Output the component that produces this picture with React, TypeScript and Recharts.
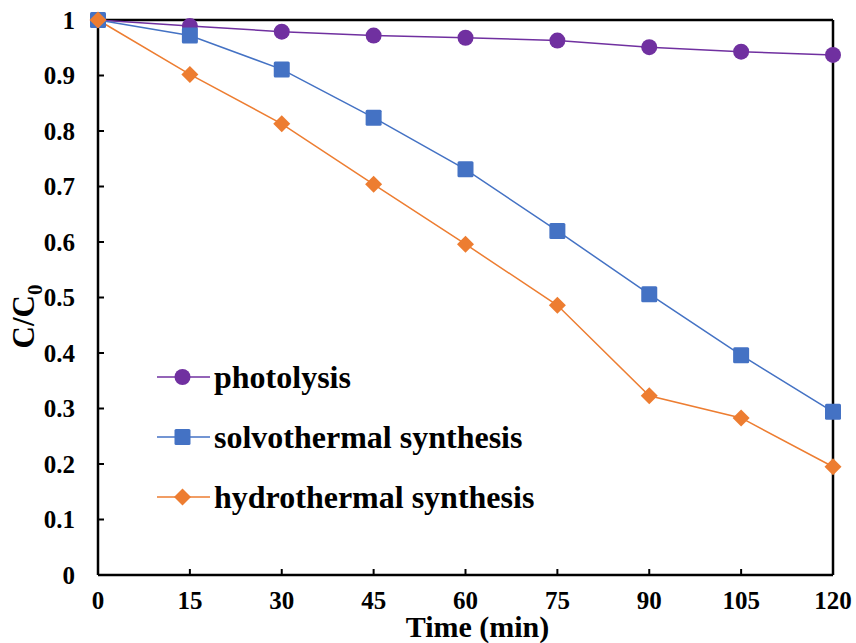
import React from 'react'
import {
  LineChart,
  Line,
  XAxis,
  YAxis,
  Legend,
  ReferenceLine,
  Label
} from 'recharts'

const times = [0, 15, 30, 45, 60, 75, 90, 105, 120]
const photolysis = [1, 0.989, 0.979, 0.972, 0.968, 0.963, 0.951, 0.943, 0.937]
const solvothermal = [1, 0.972, 0.911, 0.824, 0.731, 0.62, 0.506, 0.396, 0.294]
const hydrothermal = [1, 0.902, 0.813, 0.704, 0.596, 0.486, 0.323, 0.283, 0.195]
const yTicks = [0, 0.1, 0.2, 0.3, 0.4, 0.5, 0.6, 0.7, 0.8, 0.9, 1]

const colors = {
  photolysis: '#7030A0',
  solvothermal: '#4472C4',
  hydrothermal: '#ED7D31'
}

const data = times.map((t, i) => ({
  time: t,
  photolysis: photolysis[i],
  solvothermal: solvothermal[i],
  hydrothermal: hydrothermal[i]
}))

const font = '"Liberation Serif", "Times New Roman", serif'

const SquareDot = (props: any) => {
  const { cx, cy, index } = props
  return (
    <rect
      key={`sq-${index}`}
      x={cx - 8}
      y={cy - 8}
      width={16}
      height={16}
      rx={1.5}
      fill={colors.solvothermal}
    />
  )
}

const DiamondDot = (props: any) => {
  const { cx, cy, index } = props
  return (
    <path
      key={`dm-${index}`}
      d={`M${cx},${cy - 8.5} L${cx + 8.5},${cy} L${cx},${cy + 8.5} L${cx - 8.5},${cy} Z`}
      fill={colors.hydrothermal}
    />
  )
}

const legendItems = [
  { name: 'photolysis', color: colors.photolysis, shape: 'circle' },
  { name: 'solvothermal synthesis', color: colors.solvothermal, shape: 'square' },
  { name: 'hydrothermal synthesis', color: colors.hydrothermal, shape: 'diamond' }
]

const renderLegend = () => (
  <div style={{ fontFamily: font, fontWeight: 'bold', fontSize: 32, color: '#000' }}>
    {legendItems.map((item) => (
      <div
        key={item.name}
        style={{ display: 'flex', alignItems: 'center', height: 60 }}
      >
        <svg width={53} height={20} style={{ marginRight: 4 }}>
          <line x1={0} y1={10} x2={53} y2={10} stroke={item.color} strokeWidth={1.5} />
          {item.shape === 'circle' && <circle cx={25.5} cy={10} r={8} fill={item.color} />}
          {item.shape === 'square' && (
            <rect x={17.5} y={2} width={16} height={16} rx={1.5} fill={item.color} />
          )}
          {item.shape === 'diamond' && (
            <path d="M25.5,1.5 L34,10 L25.5,18.5 L17,10 Z" fill={item.color} />
          )}
        </svg>
        <span style={{ lineHeight: 1 }}>{item.name}</span>
      </div>
    ))}
  </div>
)

const YLabel = (props: any) => {
  const { viewBox } = props
  const x = 34
  const y = viewBox.y + viewBox.height / 2 + 19
  return (
    <text
      x={x}
      y={y}
      transform={`rotate(-90, ${x}, ${y})`}
      textAnchor="middle"
      fontFamily={font}
      fontWeight="bold"
      fontSize={31}
      fill="#000"
    >
      C/C
      <tspan fontSize={21} dy={8}>0</tspan>
    </text>
  )
}

const XLabel = (props: any) => {
  const { viewBox } = props
  return (
    <text
      x={viewBox.x + viewBox.width / 2 + 12}
      y={637}
      textAnchor="middle"
      fontFamily={font}
      fontWeight="bold"
      fontSize={30}
      fill="#000"
    >
      Time (min)
    </text>
  )
}

const tickStyle = { fontFamily: font, fontWeight: 'bold' as const, fontSize: 25, fill: '#000' }

export default function App() {
  return (
    <div style={{ position: 'absolute', left: 0, top: 0, background: '#fff' }}>
      <LineChart
        width={856}
        height={643}
        data={data}
        margin={{ top: 20, right: 23, bottom: 0, left: 38 }}
      >
        <XAxis
          dataKey="time"
          type="number"
          domain={[0, 120]}
          ticks={times}
          height={68}
          axisLine={{ stroke: '#000', strokeWidth: 2.5 }}
          tickLine={{ stroke: '#000', strokeWidth: 2 }}
          tickSize={-6}
          tickMargin={22}
          tick={tickStyle}
          interval={0}
        >
          <Label content={<XLabel />} />
        </XAxis>
        <YAxis
          type="number"
          domain={[0, 1]}
          ticks={yTicks}
          width={60}
          axisLine={{ stroke: '#000', strokeWidth: 2.5 }}
          tickLine={{ stroke: '#000', strokeWidth: 2 }}
          tickSize={-6}
          tickMargin={29}
          tick={tickStyle}
          interval={0}
          tickFormatter={(v: number) => (v === 0 ? '0' : v === 1 ? '1' : v.toFixed(1))}
        >
          <Label content={<YLabel />} />
        </YAxis>
        <ReferenceLine y={1} stroke="#000" strokeWidth={2.5} />
        <ReferenceLine x={120} stroke="#000" strokeWidth={2.5} />
        <Legend
          content={renderLegend}
          layout="vertical"
          verticalAlign="middle"
          align="center"
          wrapperStyle={{ left: 157, top: 347, width: 440 }}
        />
        <Line
          dataKey="photolysis"
          stroke={colors.photolysis}
          strokeWidth={1.5}
          dot={{ r: 8, fill: colors.photolysis, stroke: 'none' }}
          activeDot={false}
          isAnimationActive={false}
        />
        <Line
          dataKey="solvothermal"
          stroke={colors.solvothermal}
          strokeWidth={1.5}
          dot={SquareDot}
          activeDot={false}
          isAnimationActive={false}
        />
        <Line
          dataKey="hydrothermal"
          stroke={colors.hydrothermal}
          strokeWidth={1.5}
          dot={DiamondDot}
          activeDot={false}
          isAnimationActive={false}
        />
      </LineChart>
    </div>
  )
}
